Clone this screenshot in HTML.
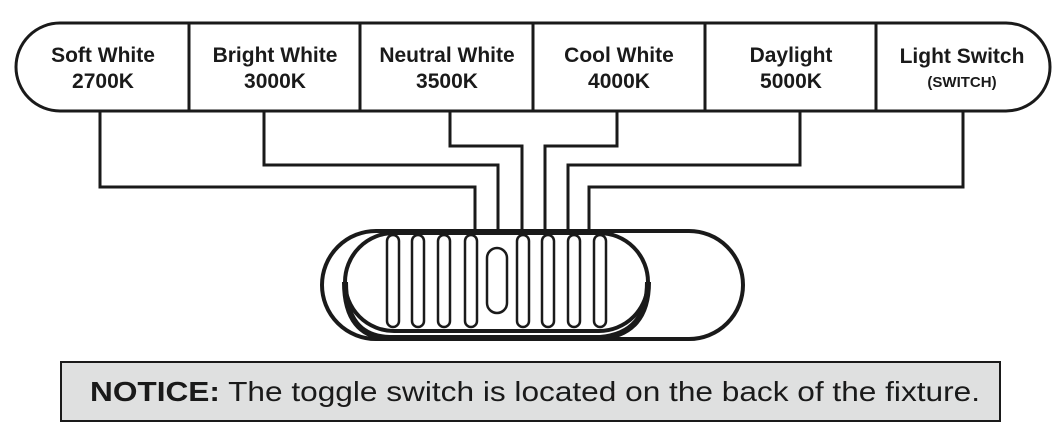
<!DOCTYPE html>
<html><head><meta charset="utf-8"><style>body{margin:0;background:#fff}svg{display:block}</style></head>
<body>
<svg width="1059" height="442" viewBox="0 0 1059 442" xmlns="http://www.w3.org/2000/svg" font-family="Liberation Sans, sans-serif">
<rect x="16" y="23" width="1034" height="88" rx="44" fill="#fff" stroke="#1a1a1a" stroke-width="3"/>
<g stroke="#1a1a1a" stroke-width="3">
<line x1="189" y1="23" x2="189" y2="111"/><line x1="360" y1="23" x2="360" y2="111"/>
<line x1="533" y1="23" x2="533" y2="111"/><line x1="705" y1="23" x2="705" y2="111"/>
<line x1="876" y1="23" x2="876" y2="111"/>
</g>
<g font-weight="bold" font-size="21" fill="#1a1a1a" text-anchor="middle">
<text x="103" y="62">Soft White</text><text x="103" y="88">2700K</text>
<text x="275" y="62">Bright White</text><text x="275" y="88">3000K</text>
<text x="447" y="62">Neutral White</text><text x="447" y="88">3500K</text>
<text x="619" y="62">Cool White</text><text x="619" y="88">4000K</text>
<text x="791" y="62">Daylight</text><text x="791" y="88">5000K</text>
<text x="962" y="63">Light Switch</text><text x="962" y="87" font-size="15">(SWITCH)</text>
</g>
<g fill="none" stroke="#1a1a1a" stroke-width="3">
<polyline points="100,111 100,187 475,187 475,230"/>
<polyline points="264,111 264,165 498,165 498,230"/>
<polyline points="450,111 450,146 522,146 522,230"/>
<polyline points="617,111 617,146 545,146 545,230"/>
<polyline points="800,111 800,165 568,165 568,230"/>
<polyline points="963,111 963,187 589,187 589,230"/>
</g>
<rect x="322" y="231" width="421" height="108" rx="54" fill="#fff" stroke="#1a1a1a" stroke-width="4"/>
<rect x="345" y="233" width="303" height="98" rx="49" fill="#fff" stroke="#1a1a1a" stroke-width="4"/>
<path d="M345,282 Q345,337 390,338 L600,338 Q648,334 648,282" fill="none" stroke="#1a1a1a" stroke-width="6"/>
<g fill="#fff" stroke="#1a1a1a" stroke-width="2.5">
<rect x="387" y="235" width="12" height="92" rx="6"/><rect x="412" y="235" width="12" height="92" rx="6"/>
<rect x="438" y="235" width="12" height="92" rx="6"/><rect x="465" y="235" width="12" height="92" rx="6"/>
<rect x="517" y="235" width="12" height="92" rx="6"/><rect x="542" y="235" width="12" height="92" rx="6"/>
<rect x="568" y="235" width="12" height="92" rx="6"/><rect x="594" y="235" width="12" height="92" rx="6"/>
<rect x="487" y="248" width="20" height="65" rx="10"/>
</g>
<rect x="61" y="362" width="939" height="59" fill="#dfe0e0" stroke="#1a1a1a" stroke-width="2"/>
<text x="90" y="401" font-size="28" fill="#1a1a1a" textLength="890" lengthAdjust="spacingAndGlyphs"><tspan font-weight="bold">NOTICE:</tspan> The toggle switch is located on the back of the fixture.</text>
</svg>
</body></html>
